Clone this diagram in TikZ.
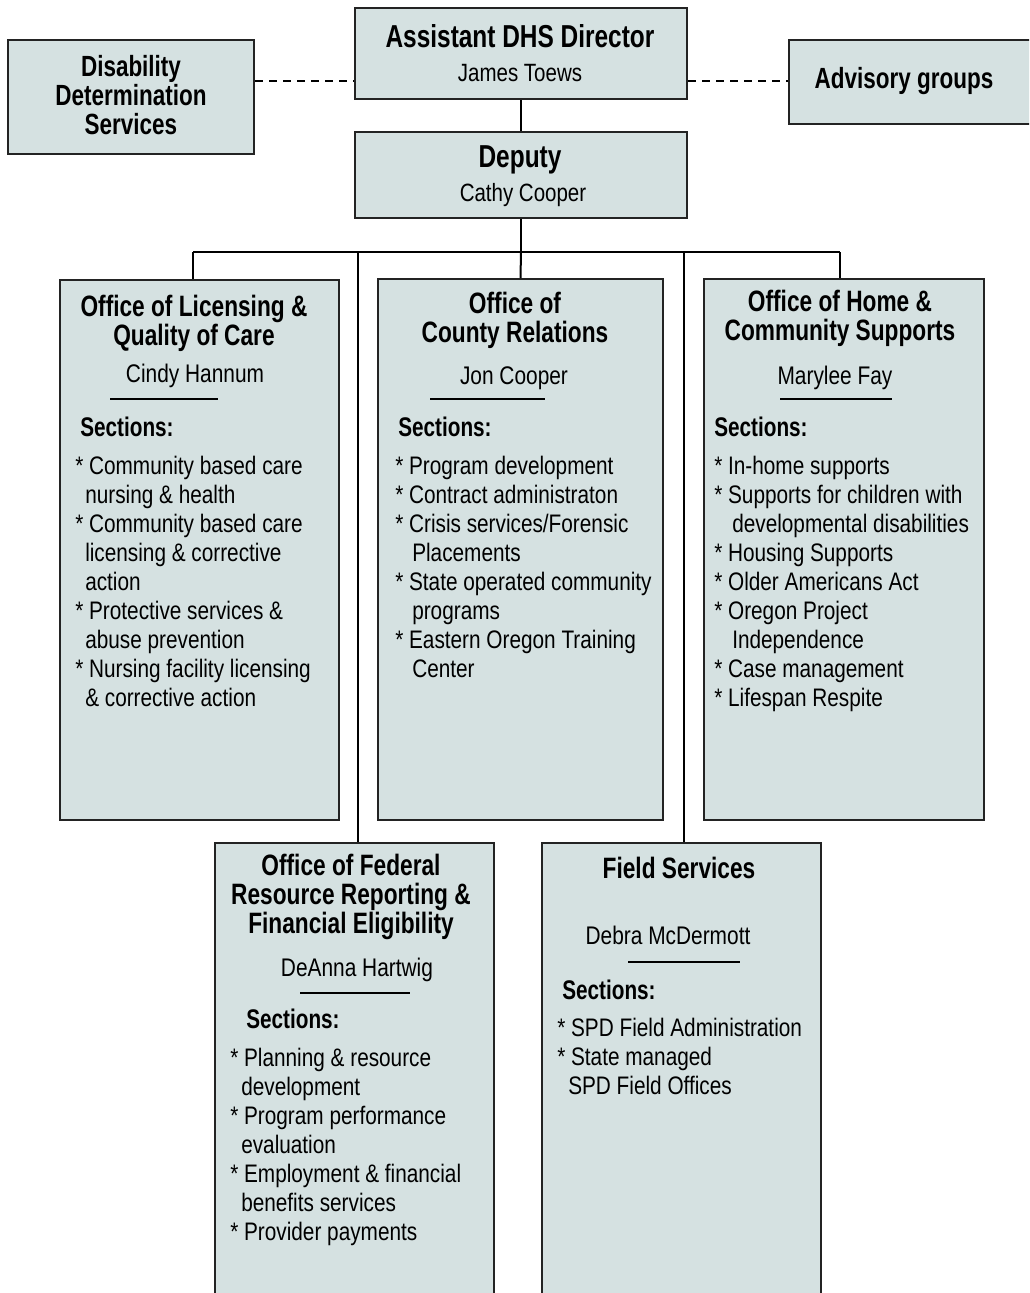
\documentclass[tikz,border=0pt]{standalone}
\usepackage{fontspec}
\setmainfont{Liberation Sans}[FakeStretch=0.82, BoldFeatures={FakeStretch=0.77}]
\definecolor{boxfill}{RGB}{213,225,225}
\definecolor{boxline}{RGB}{35,35,35}
\newcommand\fTop{\bfseries\fontsize{23.8}{24}\selectfont}
\newcommand\fTopName{\fontsize{18.75}{22}\selectfont}
\newcommand\fSide{\bfseries\fontsize{21.9}{21.75}\selectfont}
\newcommand\fOff{\bfseries\fontsize{22.1}{21.75}\selectfont}
\newcommand\fName{\fontsize{19.1}{21.75}\selectfont}
\newcommand\fSec{\bfseries\fontsize{20.2}{21.75}\selectfont}
\newcommand\fItem{\fontsize{19}{21.75}\selectfont}
\newcommand\ind[1]{\hspace*{\dimexpr #1pt*3/4\relax}}
\begin{document}
\begin{tikzpicture}[x=0.75pt,y=-0.75pt,
  box/.style={draw=boxline, line width=1.5pt, fill=boxfill, rectangle, inner sep=0pt},
  conn/.style={line width=1.5pt, draw=black},
  dashconn/.style={conn, dash pattern=on 6pt off 4.5pt},
  uline/.style={line width=1.5pt, draw=black},
  txt/.style={inner sep=0pt, anchor=base, align=center},
  ltxt/.style={inner sep=0pt, anchor=base west, align=left}]
\useasboundingbox (0,0) rectangle (1029,1293);
\clip (0,0) rectangle (1029,1293);

% boxes
\node[box, minimum width=332*0.75pt, minimum height=91*0.75pt] (dir) at (521,53.5) {};
\node[box, minimum width=246*0.75pt, minimum height=114*0.75pt] (dds) at (131,97) {};
\node[box, minimum width=250*0.75pt, minimum height=84*0.75pt] (adv) at (914,82) {};
\node[box, minimum width=332*0.75pt, minimum height=86*0.75pt] (dep) at (521,175) {};
\node[box, minimum width=279*0.75pt, minimum height=540*0.75pt] (lic) at (199.5,550) {};
\node[box, minimum width=285*0.75pt, minimum height=541*0.75pt] (cty) at (520.5,549.5) {};
\node[box, minimum width=280*0.75pt, minimum height=541*0.75pt] (home) at (844,549.5) {};
\node[box, minimum width=279*0.75pt, minimum height=467*0.75pt] (fed) at (354.5,1076.5) {};
\node[box, minimum width=279*0.75pt, minimum height=467*0.75pt] (fld) at (681.5,1076.5) {};

% connectors
\coordinate (dl) at (0,81);
\draw[dashconn] (dds.east |- dl) -- (dir.west |- dl);
\draw[dashconn] (dir.east |- dl) -- (adv.west |- dl);
\draw[conn] (dir.south) -- (dep.north);
\coordinate (bus) at (520,252);
\coordinate (bl) at (193,252);
\coordinate (br) at (840,252);
\coordinate (b4) at (358,252);
\coordinate (b5) at (684,252);
\draw[conn] (dep.south) -- (dep.south |- bus);
\draw[conn] (bl) -- (br);
\draw[conn] (bl) -- (bl |- lic.north);
\draw[conn] (dep.south |- bus) -- (cty.north);
\draw[conn] (br) -- (br |- home.north);
\draw[conn] (b4) -- (b4 |- fed.north);
\draw[conn] (b5) -- (b5 |- fld.north);

% top texts (base anchor = baseline of last line)
\node[txt, font=\fTop] (dirT) at (520,47) {Assistant DHS Director};
\node[txt, font=\fTopName] (dirN) at (520,81) {James Toews};
\node[txt, font=\fTop] (depT) at (520,167) {Deputy};
\node[txt, font=\fTopName] (depN) at (523,201) {Cathy Cooper};
\node[txt, font=\fSide] (ddsT) at (131,134) {Disability\\Determination\\Services};
\node[txt, font=\fSide] (advT) at (904,88) {Advisory groups};

% Office 1
\node[txt, font=\fOff] (licT) at (194,345) {Office of Licensing \&\\Quality of Care};
\node[txt, font=\fName] (licN) at (195,382) {Cindy Hannum};
\draw[uline] (110,399) -- (218,399);
\node[ltxt, font=\fSec] (licS) at (80,436) {Sections:};
\node[ltxt, font=\fItem] (licI) at (75,706) {* Community based care\\
\ind{10}nursing \& health\\
* Community based care\\
\ind{10}licensing \& corrective\\
\ind{10}action\\
* Protective services \&\\
\ind{10}abuse prevention\\
* Nursing facility licensing\\
\ind{10}\& corrective action};

% Office 2
\node[txt, font=\fOff] (ctyT) at (515,342) {Office of\\County Relations};
\node[txt, font=\fName] (ctyN) at (514,384) {Jon Cooper};
\draw[uline] (430,399) -- (545,399);
\node[ltxt, font=\fSec] (ctyS) at (398,436) {Sections:};
\node[ltxt, font=\fItem] (ctyI) at (395,677) {* Program development\\
* Contract administraton\\
* Crisis services/Forensic\\
\ind{17}Placements\\
* State operated community\\
\ind{17}programs\\
* Eastern Oregon Training\\
\ind{17}Center};

% Office 3
\node[txt, font=\fOff] (homeT) at (840,340) {Office of Home \&\\Community Supports};
\node[txt, font=\fName] (homeN) at (835,384) {Marylee Fay};
\draw[uline] (780,399) -- (892,399);
\node[ltxt, font=\fSec] (homeS) at (714,436) {Sections:};
\node[ltxt, font=\fItem] (homeI) at (714,706) {* In-home supports\\
* Supports for children with\\
\ind{18}developmental disabilities\\
* Housing Supports\\
* Older Americans Act\\
* Oregon Project\\
\ind{18}Independence\\
* Case management\\
* Lifespan Respite};

% Office 4
\node[txt, font=\fOff] (fedT) at (351,933) {Office of Federal\\Resource Reporting \&\\Financial Eligibility};
\node[txt, font=\fName] (fedN) at (357,976) {DeAnna Hartwig};
\draw[uline] (300,993) -- (410,993);
\node[ltxt, font=\fSec] (fedS) at (246,1028) {Sections:};
\node[ltxt, font=\fItem] (fedI) at (230,1240) {* Planning \& resource\\
\ind{11}development\\
* Program performance\\
\ind{11}evaluation\\
* Employment \& financial\\
\ind{11}benefits services\\
* Provider payments};

% Office 5
\node[txt, font=\fOff] (fldT) at (679,878) {Field Services};
\node[txt, font=\fName] (fldN) at (668,944) {Debra McDermott};
\draw[uline] (628,962) -- (740,962);
\node[ltxt, font=\fSec] (fldS) at (562,999) {Sections:};
\node[ltxt, font=\fItem] (fldI) at (557,1094) {* SPD Field Administration\\
* State managed\\
\ind{11}SPD Field Offices};
\end{tikzpicture}
\end{document}
